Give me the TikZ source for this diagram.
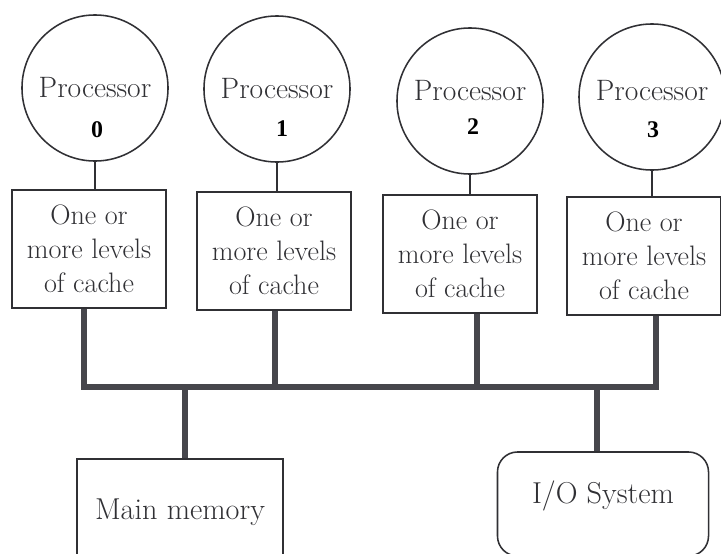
\documentclass[tikz,border=0pt]{standalone}
\usepackage{fontspec}
\newfontfamily\numfont{Liberation Serif}
\usetikzlibrary{positioning}
\definecolor{inkgray}{RGB}{48,48,52}
\definecolor{busgray}{RGB}{70,70,76}
\tikzset{
	cpu/.style={circle,draw=inkgray,line width=1.1pt,minimum size=3.65cm,inner sep=0pt,
		text=inkgray,font=\fontsize{21}{25}\selectfont},
	cpunum/.style={inner sep=0pt,font=\numfont\bfseries\fontsize{17}{20}\selectfont},
	cachebox/.style={rectangle,draw=inkgray,line width=1.1pt,minimum width=3.85cm,
		minimum height=2.95cm,inner sep=0pt,align=center,text=inkgray,
		font=\fontsize{20}{24.2}\selectfont},
	unitbox/.style={rectangle,draw=inkgray,line width=1.1pt,inner sep=0pt,anchor=base,
		text=inkgray,font=\fontsize{21.5}{25}\selectfont},
	wire/.style={draw=inkgray,line width=1pt},
	bus/.style={draw=busgray,line width=4.2pt,line join=miter}
}
\begin{document}
\begin{tikzpicture}[x=0.025cm,y=-0.025cm]
	\useasboundingbox (0,0) rectangle (721,553);
	\clip (0,0) rectangle (721,553);

	% processors
	\node[cpu] (proc0) at (95,88) {Processor};
	\node[cpu] (proc1) at (277,89) {Processor};
	\node[cpu,text depth=0.55cm] (proc2) at (470,101) {Processor};
	\node[cpu,text depth=0.35cm] (proc3) at (652,97) {Processor};
	\begin{scope}[every node/.style={cpunum}]
		\node (num0) at (97,130) {0};
		\node (num1) at (282,129) {1};
		\node (num2) at (473,127) {2};
		\node (num3) at (653,130) {3};
	\end{scope}

	% caches
	\begin{scope}[every node/.style={cachebox}]
		\node (cache0) at (89,249) {One or\\more levels\\of cache};
		\node (cache1) at (274,251) {One or\\more levels\\of cache};
		\node (cache2) at (460,254) {One or\\more levels\\of cache};
		\node (cache3) at (644,256) {One or\\more levels\\of cache};
	\end{scope}

	% memory and I/O
	\node[unitbox,minimum width=5.15cm,text height=1.5cm,text depth=1.525cm]
		(mem) at (180,519) {Main memory};
	\node[unitbox,rounded corners=0.5cm,minimum width=5.275cm,text height=1.275cm,
		text depth=1.325cm] (io) at (603,503) {I/O System};

	% bus taps
	\coordinate (tap0) at (84,387);
	\coordinate (tap1) at (275,387);
	\coordinate (tap2) at (477,387);
	\coordinate (tap3) at (656,387);
	\coordinate (tapm) at (185,387);
	\coordinate (tapio) at (597,387);

	\begin{scope}[every path/.style={wire}]
		\path (proc0.south) edge (proc0.south |- cache0.north);
		\path (proc1.south) edge (proc1.south |- cache1.north);
		\path (proc2.south) edge (proc2.south |- cache2.north);
		\path (proc3.south) edge (proc3.south |- cache3.north);
	\end{scope}

	\draw[bus] (cache0.south -| tap0) -- (tap0) -- (tap3) -- (cache3.south -| tap3);
	\draw[bus] (cache1.south -| tap1) -- (tap1);
	\draw[bus] (cache2.south -| tap2) -- (tap2);
	\draw[bus] (tapm) -- (tapm |- mem.north);
	\draw[bus] (tapio) -- (tapio |- io.north);
\end{tikzpicture}
\end{document}
